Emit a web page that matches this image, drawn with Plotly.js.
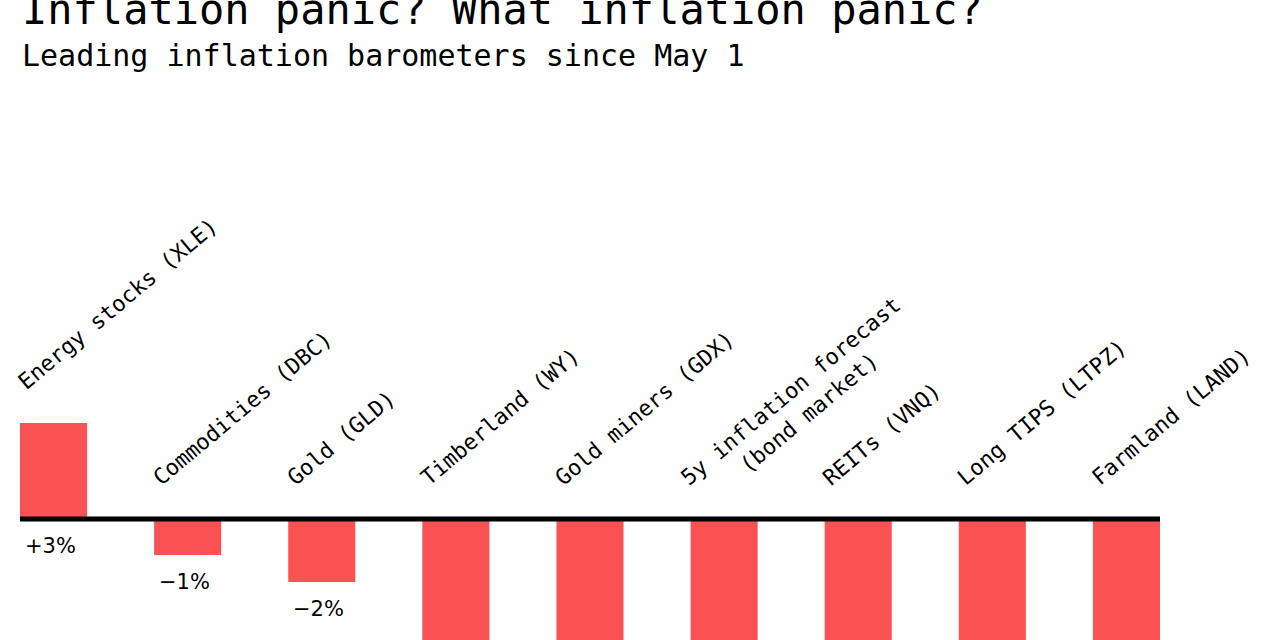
<!DOCTYPE html>
<html>
<head>
<meta charset="utf-8">
<script src="https://cdn.plot.ly/plotly-3.0.1.min.js"></script>
<style>
  html, body { margin: 0; padding: 0; background: #ffffff; overflow: hidden; }
  #chart { width: 1280px; height: 640px; }
</style>
</head>
<body>
<div id="chart"></div>
<script>
// Price change of inflation barometers since May 1 (%)
const categories = [
  "Energy stocks (XLE)",
  "Commodities (DBC)",
  "Gold (GLD)",
  "Timberland (WY)",
  "Gold miners (GDX)",
  "5y inflation forecast<br>(bond market)",
  "REITs (VNQ)",
  "Long TIPS (LTPZ)",
  "Farmland (LAND)"
];
const changes = [3.2, -1.2, -2.1, -11.0, -7.6, -5.6, -4.8, -6.3, -8.5];

const titleText = "Inflation panic? What inflation panic?";
const subtitleText = "Leading inflation barometers since May 1";

const barColor = "#fa5252";
const monoFont = "DejaVu Sans Mono, monospace";

// Plot geometry: 30 px per percentage point, zero line at y = 519 px,
// the deep losses run off the bottom of the figure.
const figW = 1280, figH = 640;
const marginTop = 339;
const pxPerPct = 30;
const zeroPx = 519;
const yMax = (zeroPx - marginTop) / pxPerPct;
const yMin = -(figH - zeroPx) / pxPerPct;
const plotHeight = figH - marginTop;
const toPaperY = (px) => 1 + (marginTop - px) / plotHeight;

const xs = categories.map((_, i) => i);

function fmtChange(v) {
  const n = Math.round(Math.abs(v));
  return (v >= 0 ? "+" : "\u2212") + n + "%";
}

const bars = {
  type: "bar",
  x: xs,
  y: changes,
  width: 0.5,
  marker: { color: barColor, line: { width: 0 } },
  hoverinfo: "skip"
};

const annotations = [];

// Category names, slanted above each bar
categories.forEach((name, i) => {
  const extraLines = name.split("<br>").length - 1;
  annotations.push({
    xref: "x", yref: "y",
    x: i - 0.25, y: Math.max(0, changes[i]),
    text: name,
    textangle: -40,
    xanchor: "left", yanchor: "bottom",
    xshift: -9 - extraLines * 8,
    yshift: 26 - extraLines * 22,
    showarrow: false,
    align: "center",
    font: { family: monoFont, size: 22, color: "#000000" }
  });
});

// Value labels beneath each bar end (only where the bar end is in view)
changes.forEach((v, i) => {
  const end = Math.min(0, v);
  if (end < yMin) return;
  annotations.push({
    xref: "x", yref: "y",
    x: i, y: end,
    text: fmtChange(v),
    xanchor: "center", yanchor: "middle",
    xshift: -3,
    yshift: -27,
    showarrow: false,
    font: { family: "DejaVu Sans, sans-serif", size: 21, color: "#000000" }
  });
});

// Headline and subheading
annotations.push({
  xref: "paper", yref: "paper",
  x: 0, y: toPaperY(10),
  xanchor: "left", yanchor: "middle",
  text: titleText, showarrow: false,
  font: { family: monoFont, size: 42, color: "#000000" }
});
annotations.push({
  xref: "paper", yref: "paper",
  x: 0, y: toPaperY(55),
  xanchor: "left", yanchor: "middle",
  text: subtitleText, showarrow: false,
  font: { family: monoFont, size: 30, color: "#000000" }
});

const layout = {
  width: figW,
  height: figH,
  margin: { l: 20, r: 120, t: marginTop, b: 0, pad: 0 },
  paper_bgcolor: "#ffffff",
  plot_bgcolor: "#ffffff",
  showlegend: false,
  xaxis: {
    range: [-0.25, 8.25],
    showgrid: false, zeroline: false, showline: false,
    showticklabels: false, ticks: ""
  },
  yaxis: {
    range: [yMin, yMax],
    showgrid: false, zeroline: false, showline: false,
    showticklabels: false, ticks: ""
  },
  shapes: [{
    type: "line", xref: "x", yref: "y",
    x0: -0.25, x1: 8.25, y0: 0, y1: 0,
    line: { color: "#000000", width: 5 },
    layer: "above"
  }],
  annotations: annotations
};

Plotly.newPlot("chart", [bars], layout, { staticPlot: true, displayModeBar: false });
</script>
</body>
</html>
